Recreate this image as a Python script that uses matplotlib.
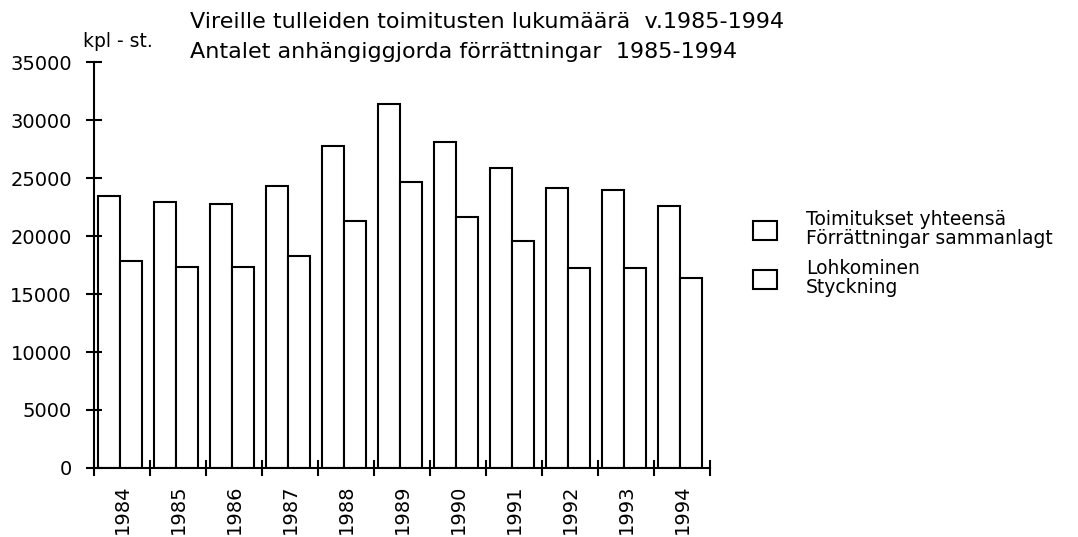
import matplotlib.pyplot as plt
import numpy as np

plt.rcParams['font.family'] = ['DejaVu Sans']

# Years and counts
years = ['1984', '1985', '1986', '1987', '1988', '1989',
         '1990', '1991', '1992', '1993', '1994']
total = [23450, 22960, 22760, 24280, 27790, 31350,
         28130, 25830, 24100, 23960, 22610]
lohkominen = [17870, 17360, 17360, 18280, 21290, 24680,
              21670, 19600, 17270, 17270, 16380]

labels = ['Toimitukset yhteensä\nFörrättningar sammanlagt',
          'Lohkominen\nStyckning']

fig = plt.figure(figsize=(10.78, 5.37), dpi=100)
ax = fig.add_axes([0.0872, 0.1285, 0.5714, 0.756])

x = np.arange(len(years))
w = 0.39
b1 = ax.bar(x - 0.43, total, width=w, align='edge', facecolor='white',
            edgecolor='black', linewidth=1.5, label=labels[0])
b2 = ax.bar(x - 0.03, lohkominen, width=w, align='edge', facecolor='white',
            edgecolor='black', linewidth=1.5, label=labels[1])

ax.set_xlim(-0.5, 10.5)
ax.set_ylim(0, 35000)
ax.set_yticks(range(0, 35001, 5000))
ax.set_xticks(x)
ax.set_xticklabels(years, rotation=90, fontsize=14)
ax.set_xticks(np.arange(-0.5, 10.6, 1), minor=True)
ax.tick_params(axis='x', which='major', length=0, pad=12)
ax.tick_params(axis='x', which='minor', direction='inout', length=12, width=1.5)
ax.tick_params(axis='y', direction='inout', length=12, width=1.5, labelsize=14, pad=10)

for s in ['top', 'right']:
    ax.spines[s].set_visible(False)
for s in ['left', 'bottom']:
    ax.spines[s].set_linewidth(1.5)

fig.text(0.077, 0.913, 'kpl - st.', fontsize=13.5)
fig.text(0.176, 0.948, 'Vireille tulleiden toimitusten lukumäärä  v.1985-1994', fontsize=16)
fig.text(0.176, 0.892, 'Antalet anhängiggjorda förrättningar  1985-1994', fontsize=16)

leg = fig.legend(handles=[b1, b2], labels=labels, loc='upper left',
                 bbox_to_anchor=(0.683, 0.640), frameon=False, fontsize=13.5,
                 handlelength=1.25, handleheight=1.2, labelspacing=0.6,
                 handletextpad=1.55)
for t in leg.get_texts():
    t.set_linespacing(1.0)

fig.savefig('out.png', dpi=100)
